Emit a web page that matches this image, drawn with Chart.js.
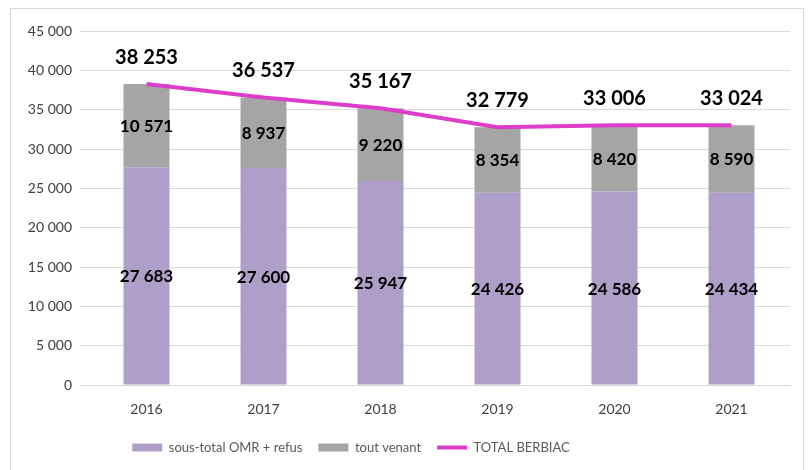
<!DOCTYPE html>
<html><head><meta charset="utf-8">
<script src="https://cdn.jsdelivr.net/npm/chart.js@4"></script>
<style>html,body{margin:0;padding:0;background:#fff}#w{width:811px;height:470px;position:relative}</style>
</head><body><div id="w"><canvas id="c" width="811" height="470"></canvas></div>
<script>
const years = ['2016','2017','2018','2019','2020','2021'];
const omrRefus = [27683, 27600, 25947, 24426, 24586, 24434];
const toutVenant = [10571, 8937, 9220, 8354, 8420, 8590];
const totalBerbiac = [38253, 36537, 35167, 32779, 33006, 33024];
const seriesNames = ['sous-total OMR + refus', 'tout venant', 'TOTAL BERBIAC'];

const FONT = 'Lato, "Open Sans", sans-serif';
function fmt(v){ return String(Math.round(v)).replace(/\B(?=(\d{3})+(?!\d))/g, ' '); }

const labelPlugin = {
  id: 'labels',
  afterLayout(chart){
    if (chart.legend) { chart.legend.left -= 49; chart.legend.right -= 49; }
  },
  beforeDraw(chart){
    const ctx = chart.ctx;
    ctx.save();
    ctx.strokeStyle = '#D9D9D9';
    ctx.lineWidth = 1;
    ctx.strokeRect(10.5, 8.5, 793, 470);
    ctx.restore();
  },
  afterDatasetsDraw(chart){
    const ctx = chart.ctx;
    ctx.save();
    ctx.fillStyle = '#000';
    ctx.textAlign = 'center';
    ctx.textBaseline = 'middle';
    [0,1].forEach(di => {
      const meta = chart.getDatasetMeta(di);
      const data = chart.data.datasets[di].data;
      ctx.font = 'bold 17px ' + FONT;
      meta.data.forEach((el, i) => {
        const y = (el.y + el.base) / 2;
        ctx.fillText(fmt(data[i]), el.x, y + 1);
      });
    });
    const lm = chart.getDatasetMeta(2);
    ctx.font = 'bold 20px ' + FONT;
    lm.data.forEach((pt, i) => {
      ctx.fillText(fmt(totalBerbiac[i]), pt.x, pt.y - 27);
    });
    ctx.restore();
  }
};

new Chart(document.getElementById('c'), {
  data: {
    labels: years,
    datasets: [
      { type: 'bar', label: seriesNames[0], data: omrRefus, backgroundColor: '#AE9FC9', stack: 's', order: 1,
        categoryPercentage: 1, barPercentage: 0.393 },
      { type: 'bar', label: seriesNames[1], data: toutVenant, backgroundColor: '#A5A5A5', stack: 's', order: 1,
        categoryPercentage: 1, barPercentage: 0.393 },
      { type: 'line', label: seriesNames[2], data: totalBerbiac, borderColor: '#DE3DC9', backgroundColor: '#DE3DC9',
        borderWidth: 4, pointRadius: 0, tension: 0, order: 0, fill: false }
    ]
  },
  options: {
    responsive: false,
    animation: false,
    layout: { padding: { left: 10, right: 21, top: 31, bottom: 6 } },
    plugins: {
      tooltip: { enabled: false },
      legend: {
        position: 'bottom',
        labels: {
          font: { family: FONT, size: 13 },
          color: '#595959',
          usePointStyle: true,
          pointStyleWidth: 30,
          boxHeight: 8,
          padding: 16,
          generateLabels(chart){
            const items = Chart.defaults.plugins.legend.labels.generateLabels(chart);
            items.sort((a, b) => a.datasetIndex - b.datasetIndex);
            items.forEach(it => {
              if (it.datasetIndex === 2) { it.pointStyle = 'line'; it.lineWidth = 4; it.strokeStyle = '#DE3DC9'; }
              else { it.pointStyle = 'rect'; it.lineWidth = 0; }
            });
            return items;
          }
        }
      }
    },
    scales: {
      x: {
        stacked: true,
        grid: { display: false },
        border: { color: '#D9D9D9', width: 1 },
        ticks: { font: { family: FONT, size: 14 }, color: '#404040', padding: 8 },
        afterFit(s){ s.height = 40; }
      },
      y: {
        stacked: true,
        min: 0, max: 45000,
        ticks: { stepSize: 5000, font: { family: FONT, size: 14 }, color: '#404040', padding: 8, callback: v => fmt(v) },
        grid: { color: '#D9D9D9' },
        border: { display: false },
        afterFit(s){ s.width = 78; }
      }
    }
  },
  plugins: [labelPlugin]
});
</script></body></html>
